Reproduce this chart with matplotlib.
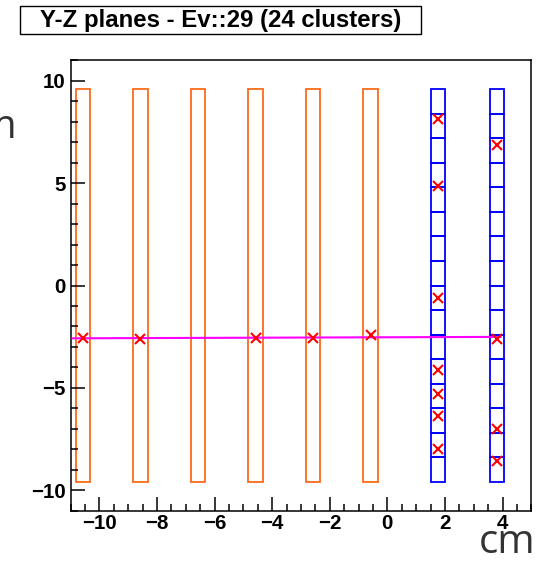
import matplotlib
matplotlib.use("Agg")
import matplotlib.pyplot as plt
from matplotlib.patches import Rectangle
from matplotlib.ticker import MultipleLocator
import numpy as np

# ---- data ----
title = "Y-Z planes - Ev::29 (24 clusters)"
orange_z = [-10.58, -8.58, -6.58, -4.58, -2.58, -0.58]   # plane centres (cm)
blue_z = [1.76, 3.80]                                    # strip plane centres (cm)
plane_width = 0.5
plane_ymin, plane_ymax = -9.6, 9.6
n_strips = 16

hit_z = [-10.58, -8.58, -4.58, -2.58, -0.58,
         1.76, 1.76, 1.76, 1.76, 1.76, 1.76, 1.76,
         3.80, 3.80, 3.80, 3.80]
hit_y = [-2.56, -2.62, -2.56, -2.56, -2.42,
         8.11, 4.87, -0.63, -4.13, -5.31, -6.35, -7.99,
         6.84, -2.60, -7.00, -8.56]

track_z = [-10.93, 3.93]
track_y = [-2.58, -2.51]

xlim = (-11, 5)
ylim = (-11, 11)
x_major, x_minor = 2, 0.5
y_major, y_minor = 5, 1

W, H = 537, 563
fig = plt.figure(figsize=(W / 100, H / 100), dpi=100)
ax = fig.add_axes([70.7 / W, 1 - 510.7 / H, (531.3 - 70.7) / W, (510.7 - 60.3) / H])

orange = "#ff6a1a"
blue = "#0000ff"
lw = 1.3

for z in orange_z:
    ax.add_patch(Rectangle((z - plane_width / 2, plane_ymin), plane_width,
                           plane_ymax - plane_ymin, fill=False, ec=orange, lw=lw))
edges = np.linspace(plane_ymin, plane_ymax, n_strips + 1)
for z in blue_z:
    for y0, y1 in zip(edges[:-1], edges[1:]):
        ax.add_patch(Rectangle((z - plane_width / 2, y0), plane_width, y1 - y0,
                               fill=False, ec=blue, lw=lw))

ax.plot(track_z, track_y, color="#ff00ff", lw=1.5, zorder=3)
ax.plot(hit_z, hit_y, ls="none", marker="x", ms=7, mew=1.5, color="#ff0000", zorder=4)

ax.set_xlim(*xlim)
ax.set_ylim(*ylim)
ax.xaxis.set_major_locator(MultipleLocator(x_major))
ax.xaxis.set_minor_locator(MultipleLocator(x_minor))
ax.yaxis.set_major_locator(MultipleLocator(y_major))
ax.yaxis.set_minor_locator(MultipleLocator(y_minor))
ax.tick_params(which="both", direction="in", top=False, right=False, width=1.1, color="black")
ax.tick_params(which="major", length=10)
ax.tick_params(which="minor", length=5)
ax.tick_params(axis="x", pad=2.5)
ax.tick_params(axis="y", pad=3.5)
for lab in ax.get_xticklabels() + ax.get_yticklabels():
    lab.set_fontfamily("Liberation Sans")
    lab.set_fontweight("bold")
    lab.set_fontsize(14.8)
for s in ax.spines.values():
    s.set_linewidth(1.1)

# title box
fig.patches.append(Rectangle((20 / W, 1 - 34.3 / H), (420.7 - 20) / W, (34.3 - 6) / H,
                             transform=fig.transFigure, fill=False, ec="black", lw=1.0))
fig.text(220.5 / W, 1 - 20.5 / H, title, ha="center", va="center",
         fontfamily="Liberation Sans", fontweight="bold", fontsize=17.3)

# axis unit labels
fig.text(535.5 / W, 1 - 553.3 / H, "cm", ha="right", va="baseline",
         fontfamily="Open Sans", fontsize=29, color="#333333")
fig.text(17.7 / W, 1 - 138 / H, "cm", ha="right", va="baseline",
         fontfamily="Open Sans", fontsize=29, color="#333333")

fig.savefig("out.png", dpi=100)
